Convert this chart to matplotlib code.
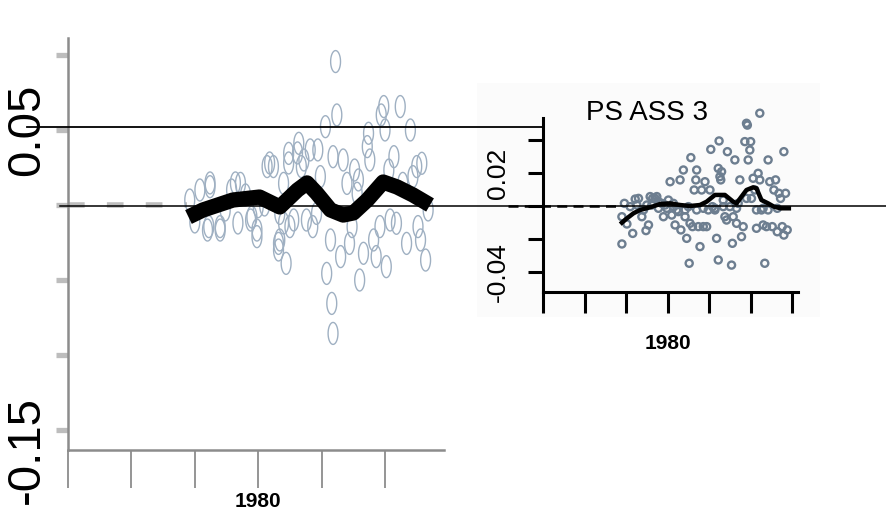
import numpy as np
import matplotlib
matplotlib.use('Agg')
import matplotlib.pyplot as plt
from matplotlib.path import Path
from matplotlib.patches import Rectangle
from matplotlib.lines import Line2D

plt.rcParams['font.family'] = ['Liberation Sans', 'DejaVu Sans']

# ---- left panel: scatter (open ellipses) + thick smoothed line ----
left_year = [1976.2, 1976.1, 1977.0, 1977.9, 1978.6, 1979.4, 1979.9, 1980.0, 1980.7, 1981.2,
             1981.6, 1981.7, 1982.0, 1982.2, 1982.4, 1982.5, 1982.8, 1983.2, 1983.4, 1983.6,
             1983.8, 1984.1, 1984.3, 1984.6, 1984.7, 1984.9, 1985.3, 1985.4, 1985.7, 1985.8,
             1985.9, 1985.9, 1986.1, 1986.2, 1986.5, 1986.7, 1987.0, 1987.2, 1987.4, 1987.6,
             1987.8, 1987.9, 1988.0, 1988.3, 1988.6, 1988.7, 1988.8, 1989.1, 1989.3, 1989.6,
             1989.7, 1989.9, 1990.0, 1990.1, 1990.3, 1990.4, 1990.7, 1990.9, 1991.2, 1991.4,
             1991.7, 1992.0, 1992.2, 1992.5, 1992.6, 1992.8, 1992.9, 1993.2, 1993.4,
             1976.2, 1976.0, 1977.0, 1978.2, 1978.4, 1979.9, 1979.5, 1980.9, 1981.7, 1981.6,
             1982.0, 1982.4, 1983.1, 1974.6, 1975.0, 1975.4, 1977.4, 1979.0, 1980.5]
left_val = [0.0122, -0.0144, -0.0144, 0.0100, 0.0144, -0.0100, -0.0211, -0.0011, 0.0256, 0.0256,
            -0.0256, -0.0056, 0.0144, -0.0389, 0.0344, -0.0144, -0.0100, 0.0411, 0.0256, 0.0300,
            -0.0100, 0.0367, -0.0144, -0.0056, 0.0367, 0.0189, 0.0522, -0.0456, -0.0233, -0.0656,
            -0.0856, 0.0322, 0.0956, 0.0600, -0.0344, 0.0300, 0.0144, -0.0256, -0.0144, 0.0233,
            0.0078, 0.0167, -0.0500, -0.0322, 0.0389, 0.0478, 0.0300, -0.0233, -0.0344, -0.0144,
            0.0600, 0.0656, 0.0500, -0.0411, 0.0233, -0.0100, 0.0322, -0.0122, 0.0656, 0.0144,
            -0.0256, 0.0500, 0.0189, 0.0256, -0.0144, -0.0233, 0.0278, -0.0367, -0.0033,
            0.0147, -0.0167, -0.0167, 0.0147, -0.0120, -0.0167, -0.0080, 0.0280, -0.0233, -0.0300,
            -0.0120, 0.0280, 0.0347, 0.0033, -0.0113, 0.0100, -0.0033, 0.0067, 0.0000]
left_smooth_year = [1974.5, 1975.65, 1978.0, 1980.1, 1981.7, 1983.1, 1983.85, 1984.6,
                    1985.7, 1986.7, 1987.5, 1988.6, 1989.85, 1990.95, 1992.2, 1993.55]
left_smooth_val = [-0.0080, -0.0033, 0.0033, 0.0053, -0.0013, 0.0100, 0.0147, 0.0080,
                   -0.0033, -0.0067, -0.0053, 0.0033, 0.0153, 0.0120, 0.0067, 0.0000]
left_yticks = [-0.15, -0.10, -0.05, 0.0, 0.05, 0.10]
left_xticks = [1965, 1970, 1975, 1980, 1985, 1990]

# ---- right panel "PS ASS 3" ----
right_year = [1974.5, 1974.5, 1974.8, 1975.1, 1975.8, 1976.1, 1976.5, 1976.9, 1977.1, 1977.4,
              1977.7, 1977.9, 1978.2, 1978.5, 1978.7, 1978.9, 1979.3, 1979.5, 1979.9, 1980.1,
              1980.3, 1980.5, 1980.7, 1980.9, 1981.1, 1981.5, 1981.6, 1981.9, 1982.1, 1982.3,
              1982.5, 1982.6, 1982.7, 1982.8, 1983.0, 1983.2, 1983.4, 1983.5, 1983.7, 1983.9,
              1984.1, 1984.3, 1984.5, 1984.7, 1984.9, 1985.1, 1985.2, 1985.4, 1985.7, 1985.9,
              1986.1, 1986.1, 1986.2, 1986.3, 1986.4, 1986.5, 1986.7, 1986.9, 1987.1, 1987.2,
              1987.5, 1987.7, 1987.8, 1987.9, 1988.1, 1988.3, 1988.5, 1988.7, 1988.9, 1989.1,
              1989.3, 1989.5, 1989.6, 1989.7, 1989.9, 1990.0, 1990.1, 1990.3, 1990.5, 1990.7,
              1990.7, 1990.9, 1991.1, 1991.1, 1991.3, 1991.5, 1991.7, 1991.9, 1992.1, 1992.1,
              1992.3, 1992.6, 1992.8, 1993.0, 1993.2, 1993.4, 1993.6, 1993.8, 1994.0, 1994.0,
              1994.2, 1994.4,
              1975.5, 1976.3, 1977.5, 1978.1, 1978.9, 1979.7, 1980.7, 1981.3, 1982.1, 1983.5,
              1984.3, 1985.7, 1986.7, 1988.3, 1989.5, 1991.5, 1993.2]
right_val = [-0.0230, -0.0065, 0.0016, -0.0109, -0.0166, 0.0042, 0.0046, -0.0065, -0.0024, -0.0149,
             -0.0115, 0.0057, 0.0046, 0.0046, 0.0057, -0.0014, 0.0016, -0.0065, -0.0014, 0.0036,
             0.0147, -0.0055, -0.0004, -0.0115, -0.0024, 0.0158, -0.0145, 0.0218, -0.0065, -0.0196,
             -0.0004, -0.0347, -0.0105, 0.0293, -0.0125, 0.0097, 0.0158, 0.0218, -0.0125, -0.0246,
             0.0097, -0.0125, 0.0147, -0.0125, -0.0024, 0.0097, 0.0343, -0.0004, -0.0024, -0.0196,
             -0.0327, 0.0228, 0.0394, 0.0178, 0.0158, 0.0208, -0.0004, -0.0065, -0.0085, 0.0329,
             -0.0004, -0.0358, -0.0226, -0.0065, 0.0279, -0.0105, 0.0016, 0.0158, -0.0186, -0.0125,
             0.0390, 0.0501, 0.0490, 0.0279, 0.0339, 0.0390, 0.0046, 0.0168, 0.0097, -0.0135,
             -0.0024, 0.0198, 0.0562, 0.0158, -0.0024, -0.0115, -0.0347, -0.0125, 0.0279, -0.0024,
             0.0147, -0.0125, 0.0097, 0.0158, -0.0156, 0.0077, 0.0046, -0.0125, 0.0329, -0.0176,
             0.0077, -0.0145,
             -0.0004, 0.0006, 0.0006, 0.0006, 0.0026, 0.0006, 0.0016, -0.0034, -0.0024, -0.0024,
             -0.0014, -0.0014, 0.0036, -0.0014, 0.0046, -0.0014, -0.0014]
right_smooth_year = [1974.5, 1975.1, 1975.9, 1976.7, 1977.9, 1979.1, 1980.3, 1981.5, 1982.7,
                     1983.9, 1984.7, 1985.7, 1986.9, 1987.9, 1988.3, 1988.9, 1989.5, 1990.3,
                     1990.7, 1991.3, 1992.1, 1992.8, 1993.6, 1994.6]
right_smooth_val = [-0.0101, -0.0075, -0.0044, -0.0024, -0.0008, 0.0012, 0.0016, 0.0006, 0.0,
                    0.0006, 0.0026, 0.0067, 0.0067, 0.0026, 0.0016, 0.0057, 0.0097, 0.0113,
                    0.0107, 0.0036, 0.0016, -0.0004, -0.0014, -0.0014]
right_yticks = [-0.04, -0.02, 0.0, 0.02, 0.04]
right_yticklabels = ['-0.04', '', '', '0.02', '']
right_xticks = [1965, 1970, 1975, 1980, 1985, 1990, 1995]

W, H = 887, 526
fig = plt.figure(figsize=(W / 100, H / 100), dpi=100)


def fx(px):
    return px / W


def fy(py):
    return 1 - py / H


# very light backdrop behind the inset panel
fig.patches.append(Rectangle((fx(477), fy(317)), fx(820) - fx(477), fy(83) - fy(317),
                             transform=fig.transFigure, facecolor='#fbfbfb', edgecolor='none', zorder=-5))

# ---------------- left panel ----------------
axL = fig.add_axes([fx(68), fy(450), fx(444) - fx(68), fy(38) - fy(450)])
axL.patch.set_alpha(0)
axL.set_xlim(1965, 1994.65)
axL.set_ylim(-0.1633, 0.1113)

# dashed grey zero line before data
axL.plot([1965, 1974.4], [0, 0], color='#bdbdbd', lw=4, dashes=(3, 4), zorder=2, clip_on=False)

t = np.linspace(0, 2 * np.pi, 40)
ellipse = Path(np.column_stack([0.45 * np.cos(t), np.sin(t)]), closed=True)
axL.scatter(left_year, left_val, marker=ellipse, s=250, facecolors='none',
            edgecolors='#9fb0c2', linewidths=1.0, zorder=3, clip_on=False)
axL.plot(left_smooth_year, left_smooth_val, color='black', lw=11,
         solid_joinstyle='round', solid_capstyle='butt', zorder=4)

axL.set_yticks(left_yticks)
axL.set_yticklabels([])
axL.tick_params(axis='y', direction='out', length=9, width=3.8, color='#bdbdbd')
axL.set_xticks(left_xticks)
axL.set_xticklabels(['', '', '', '1980', '', ''], fontsize=15, fontweight='bold')
axL.tick_params(axis='x', direction='out', length=27, width=1.3, color='#8c8c8c', pad=3)
for s in ['top', 'right']:
    axL.spines[s].set_visible(False)
for s in ['left', 'bottom']:
    axL.spines[s].set_color('#8c8c8c')
    axL.spines[s].set_linewidth(1.8)

# big rotated y labels
fig.text(fx(27), fy(130), '0.05', rotation=90, fontsize=34, ha='center', va='center')
fig.text(fx(27), fy(450), '-0.15', rotation=90, fontsize=34, ha='center', va='center')

# ---------------- right panel ----------------
axR = fig.add_axes([fx(543), fy(292), fx(798) - fx(543), fy(118) - fy(292)])
axR.patch.set_alpha(0)
axR.set_xlim(1965, 1995.7)
axR.set_ylim(-0.0521, 0.0533)

axR.plot([1960.8, 1974.0], [0, 0], color='black', lw=1.8, dashes=(4, 2.5), zorder=2, clip_on=False)
axR.scatter(right_year, right_val, s=26, facecolors='none', edgecolors='#6d7e90',
            linewidths=1.7, zorder=3, clip_on=False)
axR.plot(right_smooth_year, right_smooth_val, color='black', lw=3.2, zorder=4)

axR.set_yticks(right_yticks)
axR.set_yticklabels(right_yticklabels, rotation=90, va='center', fontsize=19)
axR.tick_params(axis='y', direction='out', length=11, width=2.2, color='black', pad=13)
axR.set_xticks(right_xticks)
axR.set_xticklabels(['', '', '', '1980', '', '', ''], fontsize=15, fontweight='bold')
axR.tick_params(axis='x', direction='out', length=15, width=2.2, color='black', pad=15)
for s in ['top', 'right']:
    axR.spines[s].set_visible(False)
for s in ['left', 'bottom']:
    axR.spines[s].set_linewidth(2.2)

fig.text(fx(647), fy(120), 'PS ASS 3', fontsize=20, ha='center', va='baseline')

# long horizontal reference lines running across both panels
fig.add_artist(Line2D([fx(27), fx(543)], [fy(127), fy(127)], color='black', lw=1.3,
                      transform=fig.transFigure, zorder=5))
fig.add_artist(Line2D([fx(60), fx(887)], [fy(205.5), fy(205.5)], color='black', lw=1.1,
                      transform=fig.transFigure, zorder=5))

fig.savefig('out.png', dpi=100)
